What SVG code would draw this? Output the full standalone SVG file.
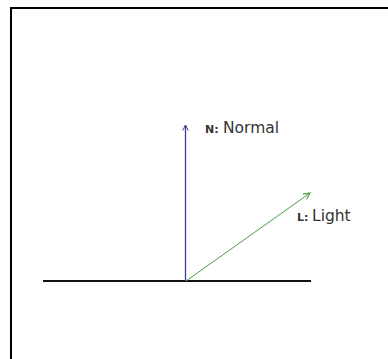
<svg xmlns="http://www.w3.org/2000/svg" width="388" height="359" viewBox="0 0 388 359">
<style>
.big{font-family:"DejaVu Sans",Verdana,sans-serif;font-size:15.5px;fill:#333}
.tag{font-family:"DejaVu Sans",Verdana,sans-serif;font-size:11px;font-weight:bold;fill:#333}
</style>
<defs>
<marker id="ab" viewBox="0 0 10 10" refX="9" refY="5" markerWidth="7" markerHeight="7" markerUnits="userSpaceOnUse" orient="auto">
<path d="M1,1 L9,5 L1,9" fill="none" stroke="#3a3a9a" stroke-width="1.4"/>
</marker>
<marker id="ag" viewBox="0 0 10 10" refX="9" refY="5" markerWidth="8" markerHeight="8" markerUnits="userSpaceOnUse" orient="auto">
<path d="M1,1 L9,5 L1,9" fill="none" stroke="#4a9a4a" stroke-width="1.4"/>
</marker>
</defs>
<rect width="388" height="359" fill="#fff"/>
<rect id="frame" x="11" y="8" width="400" height="380" fill="none" stroke="#000" stroke-width="2"/>
<g id="surface"><line x1="43" y1="281" x2="311" y2="281" stroke="#111" stroke-width="2.2"/></g>
<g id="connectors">
<line x1="185.5" y1="281" x2="185.5" y2="125" stroke="#3a3a9a" stroke-width="1.3" marker-end="url(#ab)"/>
<line x1="186" y1="281" x2="310" y2="193" stroke="#4a9a4a" stroke-width="1" marker-end="url(#ag)"/>
</g>
<g id="normal"><text x="205" y="133" class="tag">N:</text><text x="223" y="133" class="big">Normal</text></g>
<g id="light"><text x="297" y="221" class="tag">L:</text><text x="312" y="221" class="big">Light</text></g>
</svg>
